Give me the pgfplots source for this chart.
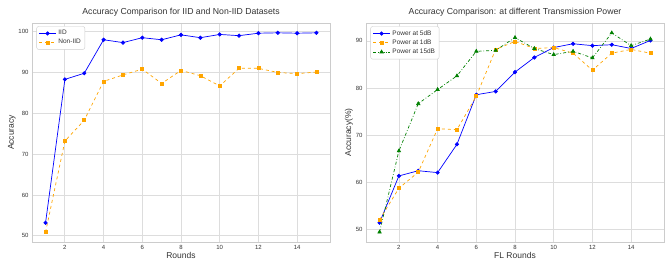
\documentclass[border=0pt]{standalone}
\usepackage{fontspec}
\setmainfont{Liberation Sans}
\usepackage{pgfplots}
\pgfplotsset{compat=1.18}
\definecolor{gridc}{HTML}{DDDDDD}
\definecolor{framec}{HTML}{CCCCCC}
\definecolor{txt}{HTML}{333333}
\definecolor{orng}{HTML}{FFA500}
\definecolor{grn}{HTML}{008000}
\pgfplotsset{
  mystyle/.style={
    scale only axis, width=298pt, height=219pt,
    xmin=0.3, xmax=15.7,
    xtick={2,4,...,14},
    grid=both, major grid style={gridc, line width=0.8pt},
    axis line style={framec, line width=0.8pt},
    major tick length=0pt,
    tick label style={font=\fontsize{6}{7}\selectfont, text=txt},
    /pgf/number format/assume math mode=true,
    label style={font=\fontsize{8.5}{10}\selectfont, text=txt},
    title style={font=\fontsize{8.7}{10}\selectfont, text=txt, yshift=-3pt},
    legend style={at={(0.015,0.985)}, anchor=north west, font=\fontsize{6.5}{8}\selectfont,
      draw=framec, rounded corners=2pt, text=txt, row sep=-1pt, inner sep=2pt},
    legend cell align=left,
    xlabel style={yshift=4pt},
    ylabel style={yshift=-4pt},
  }
}
\begin{document}
\begin{tikzpicture}
\useasboundingbox (0pt,0pt) rectangle (668pt,265pt);
\begin{axis}[mystyle, at={(32pt,23pt)}, anchor=south west,
  ymin=48.5, ymax=102.1, ytick={50,60,...,100},
  title={Accuracy Comparison for IID and Non-IID Datasets},
  xlabel={Rounds}, ylabel={Accuracy}]
\addplot[blue, line width=0.7pt, mark=*, mark size=1.7pt] coordinates {
(1,53.2)(2,88.3)(3,89.8)(4,98.0)(5,97.3)(6,98.5)(7,98.0)(8,99.2)(9,98.5)(10,99.3)(11,99.0)(12,99.6)(13,99.7)(14,99.6)(15,99.7)};
\addlegendentry{IID}
\addplot[orng, line width=0.7pt, dashed, mark=square*, mark size=1.5pt, mark options={solid}] coordinates {
(1,50.9)(2,73.2)(3,78.3)(4,87.8)(5,89.4)(6,90.8)(7,87.3)(8,90.5)(9,89.2)(10,86.7)(11,91.0)(12,91.0)(13,90.0)(14,89.7)(15,90.1)};
\addlegendentry{Non-IID}
\end{axis}
\begin{axis}[mystyle, at={(366pt,23pt)}, anchor=south west,
  ymin=47.4, ymax=93.8, ytick={50,60,...,90},
  title={Accuracy Comparison: at different Transmission Power},
  xlabel={FL Rounds}, ylabel={Accuracy(\%)}]
\addplot[blue, line width=0.7pt, mark=*, mark size=1.7pt] coordinates {
(1,51.5)(2,61.4)(3,62.5)(4,62.1)(5,68.1)(6,78.6)(7,79.3)(8,83.4)(9,86.5)(10,88.6)(11,89.4)(12,89.0)(13,89.2)(14,88.4)(15,90.1)};
\addlegendentry{Power at 5dB}
\addplot[orng, line width=0.7pt, dashed, mark=square*, mark size=1.5pt, mark options={solid}] coordinates {
(1,52.1)(2,58.8)(3,62.2)(4,71.4)(5,71.2)(6,78.3)(7,88.2)(8,89.9)(9,88.4)(10,88.6)(11,87.4)(12,83.8)(13,87.4)(14,88.2)(15,87.4)};
\addlegendentry{Power at 1dB}
\addplot[grn, line width=0.7pt, dash dot, mark=triangle*, mark size=1.9pt, mark options={solid}] coordinates {
(1,49.5)(2,66.7)(3,76.7)(4,79.7)(5,82.6)(6,87.8)(7,88.0)(8,90.7)(9,88.4)(10,87.1)(11,87.8)(12,86.4)(13,91.7)(14,89.0)(15,90.4)};
\addlegendentry{Power at 15dB}
\end{axis}
\end{tikzpicture}
\end{document}
